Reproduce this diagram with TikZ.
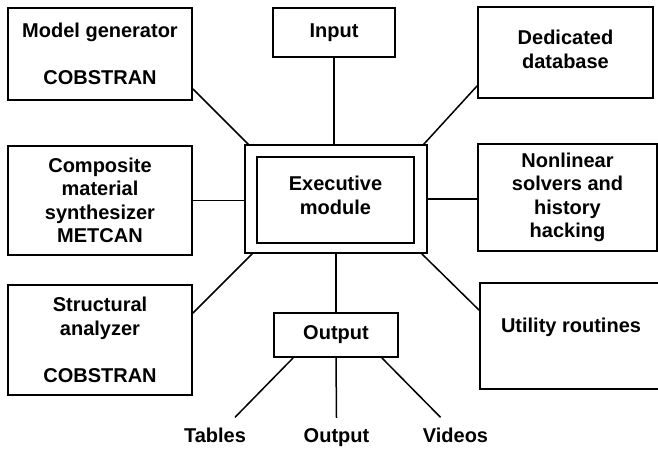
\documentclass[tikz,border=0pt]{standalone}
\usepackage{fontspec}
\setmainfont{Liberation Sans}
\begin{document}
\begin{tikzpicture}[x=1pt,y=-1pt,
  txt/.style={font=\bfseries\fontsize{20}{23.5}\selectfont},
  box/.style={draw, line width=1.6pt, inner sep=0pt, txt},
  mbox/.style={box, align=center},
  conn/.style={line width=1.5pt},
  lbl/.style={inner sep=0pt, anchor=base, txt}]
\useasboundingbox (0,0) rectangle (658,451);
% left column
\node[mbox, minimum width=184pt, minimum height=92pt] (mg) at (100,54) {Model generator\\[23.5pt]COBSTRAN};
\node[mbox, minimum width=184pt, minimum height=109pt] (cm) at (100,200.5) {Composite\\material\\synthesizer\\METCAN};
\node[mbox, minimum width=184pt, minimum height=110pt] (sa) at (100,340) {Structural\\analyzer\\[23.5pt]COBSTRAN};
% centre column
\node[mbox, minimum width=122pt, minimum height=49pt] (inp) at (334,32.5) {Input};
\node[draw, line width=1.5pt, inner sep=0pt, minimum width=182pt, minimum height=108pt] (exo) at (336,199) {};
\node[mbox, line width=2.2pt, text depth=10pt, minimum width=157pt, minimum height=86pt] (ex) at (335.5,200) {Executive\\module};
\node[mbox, minimum width=124pt, minimum height=44pt] (out) at (336,335) {Output};
% right column
\node[mbox, text depth=7pt, minimum width=175pt, minimum height=91pt] (dd) at (565.5,52.5) {Dedicated\\database};
\node[mbox, minimum width=179pt, minimum height=107pt] (nl) at (567.5,197.5) {Nonlinear\\solvers and\\history\\hacking};
\node[box, minimum width=182pt, text height=49pt, text depth=57pt] (ut) at (571,336) {Utility routines};
% bottom labels
\node[lbl] (tb) at (215,442) {Tables};
\node[lbl] (ol) at (336.5,442) {Output};
\node[lbl] (vd) at (455.5,442) {Videos};
% connectors
\draw[conn] ([yshift=12pt]mg.south east) -- ([xshift=4pt]exo.north west);
\draw[conn] (inp.south) -- (inp.south |- exo.north);
\draw[conn] (cm.east) -- (cm.east -| exo.west);
\draw[conn] ([yshift=13pt]dd.south west) -- ([xshift=-4pt]exo.north east);
\draw[conn] (exo.east) -- (exo.east -| nl.west);
\draw[conn] ([yshift=-29pt]sa.north east) -- ([xshift=8pt]exo.south west);
\draw[conn] ([yshift=-28pt]ut.north west) -- ([xshift=-6pt]exo.south east);
\draw[conn] (exo.south) -- (out.north);
\draw[conn] ([xshift=20pt]out.south west) -- ([xshift=20pt,yshift=10pt]tb.north);
\draw[conn] (out.south) -- ([yshift=10pt]ol.north);
\draw[conn] ([xshift=-17pt]out.south east) -- ([xshift=-15pt,yshift=10pt]vd.north);
\end{tikzpicture}
\end{document}
